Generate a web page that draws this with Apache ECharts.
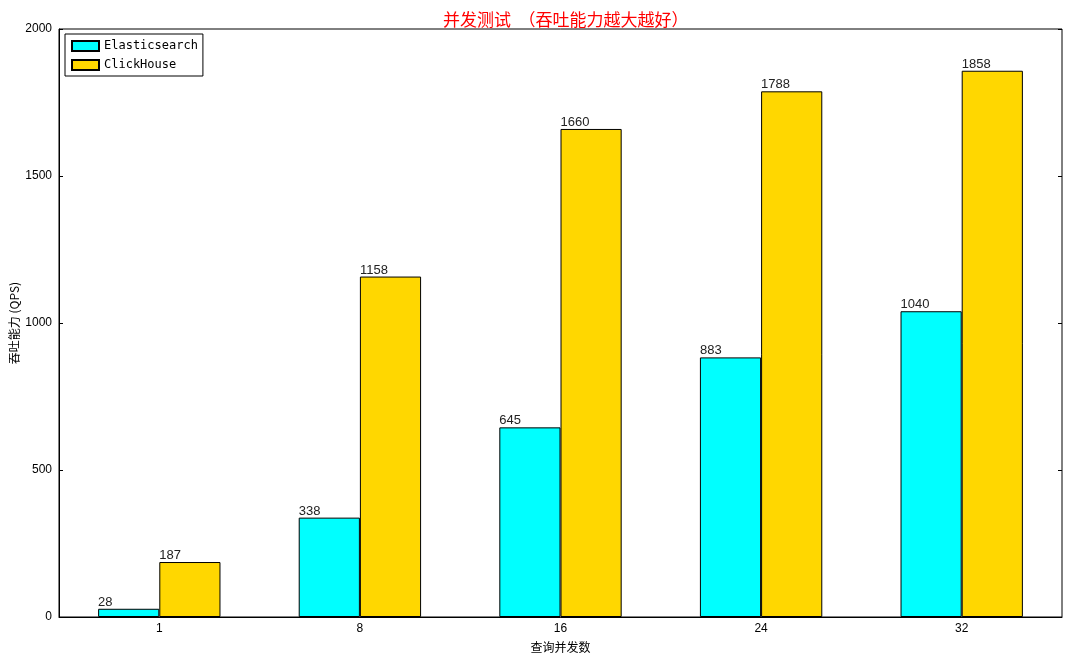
<!DOCTYPE html>
<html>
<head>
<meta charset="utf-8">
<script src="https://cdn.jsdelivr.net/npm/echarts@6/dist/echarts.min.js"></script>
<style>
  html, body { margin: 0; padding: 0; background: #fff; }
  #chart { width: 1080px; height: 659px; }
</style>
</head>
<body>
<div id="chart"></div>
<script>
  // 并发测试数据
  var concurrency = ['1', '8', '16', '24', '32']
  var esQps = [28, 338, 645, 883, 1040]
  var chQps = [187, 1158, 1660, 1788, 1858]

  var myChart = echarts.init(document.getElementById('chart'))

  var barLabel = {
    show: true,
    position: [0, -13],
    fontSize: 13,
    color: '#222',
    fontFamily: 'Liberation Sans, Arial, sans-serif'
  }

  var option = {
    animation: false,
    title: {
      text: '并发测试  （吞吐能力越大越好）',
      left: 438,
      top: 6,
      textStyle: {
        color: '#ff0000',
        fontSize: 17,
        fontWeight: 'normal',
        fontFamily: 'Noto Sans CJK SC'
      }
    },
    legend: {
      orient: 'vertical',
      left: 65,
      top: 34,
      padding: [6, 5, 5, 6],
      itemGap: 7,
      itemWidth: 27,
      itemHeight: 10,
      borderColor: '#000',
      borderWidth: 1,
      icon: 'rect',
      textStyle: {
        fontFamily: 'DejaVu Sans Mono, monospace',
        fontSize: 12,
        color: '#000'
      },
      data: ['Elasticsearch', 'ClickHouse']
    },
    grid: {
      left: 59,
      right: 18,
      top: 29,
      bottom: 42,
      outerBoundsMode: 'none',
      containLabel: false,
      show: true,
      borderColor: '#000',
      borderWidth: 1
    },
    xAxis: [{
      type: 'category',
      data: concurrency,
      name: '查询并发数',
      nameLocation: 'middle',
      nameGap: 24,
      nameMoveOverlap: false,
      nameTextStyle: { fontFamily: 'Noto Sans CJK SC', fontSize: 12, color: '#000' },
      axisLine: { lineStyle: { color: '#000' } },
      axisTick: { alignWithLabel: true, inside: true, length: 4, lineStyle: { color: '#000' } },
      axisLabel: { color: '#000', fontSize: 12, margin: 6, fontFamily: 'Liberation Sans, Arial' }
    }, {
      type: 'category',
      data: concurrency,
      position: 'top',
      axisLine: { show: false },
      axisTick: { alignWithLabel: true, inside: true, length: 4, lineStyle: { color: '#000' } },
      axisLabel: { show: false }
    }],
    yAxis: [{
      type: 'value',
      min: 0,
      max: 2000,
      interval: 500,
      name: '吞吐能力 (QPS)',
      nameLocation: 'middle',
      nameGap: 39,
      nameMoveOverlap: false,
      nameTextStyle: { fontFamily: 'Noto Sans CJK SC', fontSize: 12, color: '#000' },
      axisLine: { show: true, lineStyle: { color: '#000' } },
      axisTick: { show: true, inside: true, length: 4, lineStyle: { color: '#000' } },
      axisLabel: {
        color: '#000', fontSize: 12, margin: 7, fontFamily: 'Liberation Sans, Arial',
        formatter: function (v) { return String(v) }
      },
      splitLine: { show: false }
    }, {
      type: 'value',
      min: 0,
      max: 2000,
      interval: 500,
      position: 'right',
      axisLine: { show: false },
      axisTick: { show: true, inside: true, length: 4, lineStyle: { color: '#000' } },
      axisLabel: { show: false },
      splitLine: { show: false }
    }],
    series: [{
      name: 'Elasticsearch',
      type: 'bar',
      data: esQps,
      barWidth: '30.5%',
      barGap: '0%',
      itemStyle: { color: '#00ffff', borderColor: '#000', borderWidth: 1 },
      label: barLabel
    }, {
      name: 'ClickHouse',
      type: 'bar',
      data: chQps,
      barWidth: '30.5%',
      barGap: '0%',
      itemStyle: { color: '#ffd700', borderColor: '#000', borderWidth: 1 },
      label: barLabel
    }]
  }

  myChart.setOption(option)
</script>
</body>
</html>
